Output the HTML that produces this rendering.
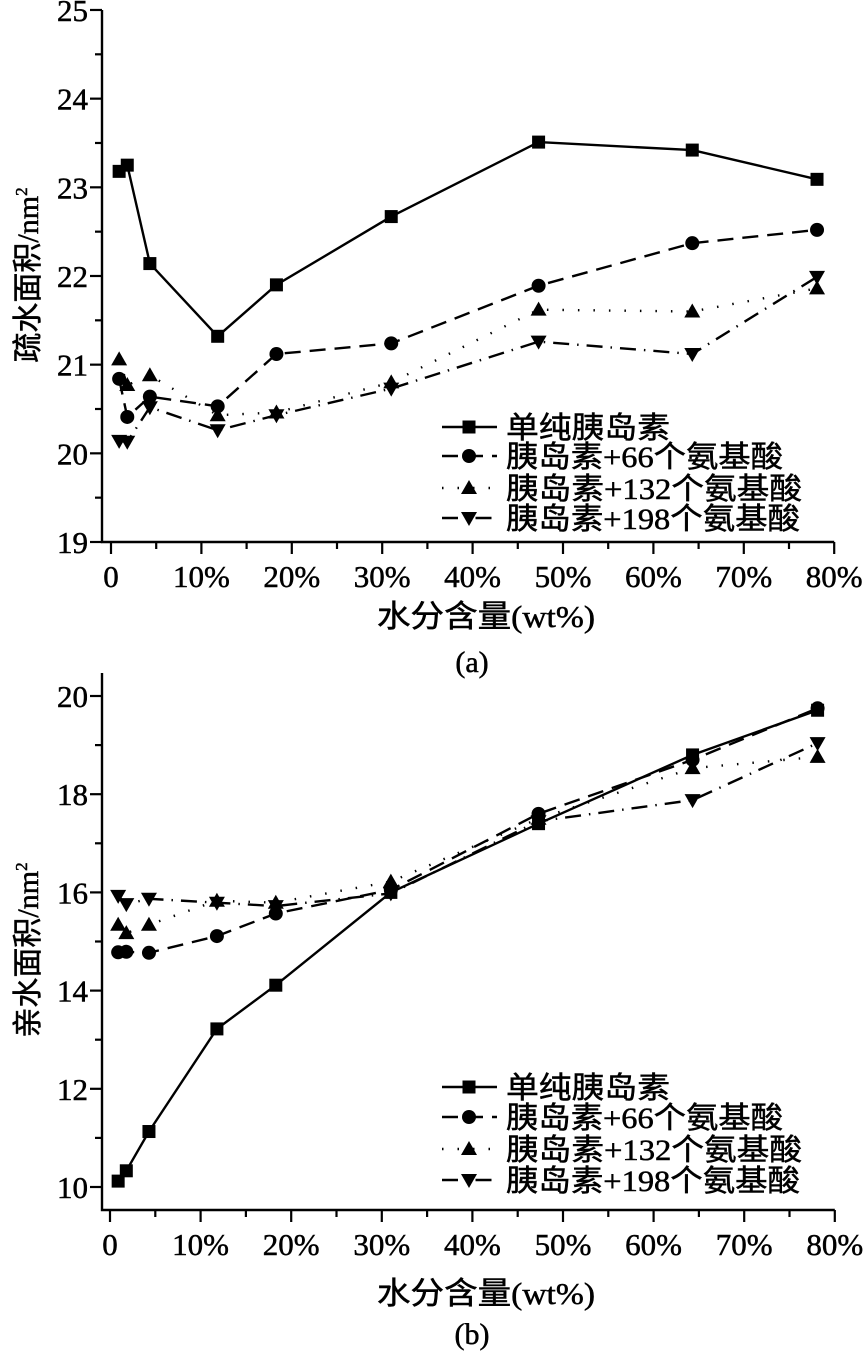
<!DOCTYPE html>
<html><head><meta charset="utf-8">
<style>
html,body{margin:0;padding:0;background:#fff;}
svg{display:block;}
text{font-family:"Liberation Serif","Noto Sans CJK SC",serif;fill:#000;}
.tk{stroke:#000;stroke-width:0.5px;}
</style></head>
<body>
<svg id="fig" width="867" height="1351" viewBox="0 0 867 1351" xmlns="http://www.w3.org/2000/svg"></svg>
<script>
// ---- data ----
const waterContent = [0.9, 1.8, 4.3, 11.8, 18.3, 31.0, 47.3, 64.3, 78.1];
const seriesNames = ["单纯胰岛素", "胰岛素+66个氨基酸", "胰岛素+132个氨基酸", "胰岛素+198个氨基酸"];
const hydrophobicPure = [23.18, 23.25, 22.14, 21.32, 21.90, 22.67, 23.51, 23.42, 23.09];
const hydrophobic66 = [20.84, 20.41, 20.64, 20.53, 21.12, 21.24, 21.89, 22.37, 22.52];
const hydrophobic132 = [21.06, 20.77, 20.88, 20.43, 20.46, 20.80, 21.62, 21.60, 21.86];
const hydrophobic198 = [20.14, 20.13, 20.52, 20.26, 20.43, 20.73, 21.26, 21.12, 21.99];
const hydrophilicPure = [10.12, 10.33, 11.13, 13.22, 14.11, 16.00, 17.40, 18.80, 19.71];
const hydrophilic66 = [14.78, 14.79, 14.77, 15.11, 15.57, 16.05, 17.60, 18.70, 19.75];
const hydrophilic132 = [15.34, 15.17, 15.34, 15.83, 15.79, 16.22, 17.50, 18.53, 18.76];
const hydrophilic198 = [15.93, 15.76, 15.87, 15.79, 15.72, 15.98, 17.45, 17.88, 19.04];
const xTickLabels = ["0", "10%", "20%", "30%", "40%", "50%", "60%", "70%", "80%"];
const yTicksTop = [19, 20, 21, 22, 23, 24, 25];
const yTicksBottom = [10, 12, 14, 16, 18, 20];

const NS = "http://www.w3.org/2000/svg";
const svg = document.getElementById("fig");
function mk(tag, attrs, parent) {
  const e = document.createElementNS(NS, tag);
  for (const k in attrs) e.setAttribute(k, attrs[k]);
  (parent || svg).appendChild(e);
  return e;
}
const dashes = ["", "16 9", "1.5 14", "16 8 1.5 8"];

function drawMarker(g, kind, cx, cy) {
  let m;
  if (kind === 0) m = mk("rect", {x: cx - 6.5, y: cy - 6.5, width: 13, height: 13, fill: "#000"}, g);
  else if (kind === 1) m = mk("circle", {cx: cx, cy: cy, r: 7, fill: "#000"}, g);
  else if (kind === 2) m = mk("polygon", {points: `${cx},${cy-8} ${cx+8},${cy+6} ${cx-8},${cy+6}`, fill: "#000"}, g);
  else m = mk("polygon", {points: `${cx},${cy+8} ${cx+8},${cy-6} ${cx-8},${cy-6}`, fill: "#000"}, g);
  return m;
}

function chart(opt) {
  const g = mk("g", {});
  
  
  const X = v => opt.x0 + (v / 10) * opt.xStep;
  const Y = v => opt.yBase - (v - opt.yBaseVal) * opt.yUnit;
  const ax = mk("path", {d: `M${opt.axisX},${opt.axisTop} V${opt.axisBottom} H${X(80)}`, stroke: "#000", "stroke-width": 2.4, fill: "none"}, g);
  
  
  for (let i = 0; i <= 16; i++) {
    const v = i * 5, major = i % 2 === 0;
    mk("line", {x1: X(v), x2: X(v), y1: opt.axisBottom, y2: opt.axisBottom + (major ? 12 : 7), stroke: "#000", "stroke-width": 2.2}, g);
  }
  xTickLabels.forEach((t, i) => {
    const tx = mk("text", {x: X(i * 10), y: opt.axisBottom + 45, "text-anchor": "middle", "font-size": 31, class: "tk"}, g);
    tx.textContent = t;
    
    
  });
  opt.yTicks.forEach((v, i) => {
    mk("line", {x1: opt.axisX - 12, x2: opt.axisX, y1: Y(v), y2: Y(v), stroke: "#000", "stroke-width": 2.2}, g);
    if (i < opt.yTicks.length - 1) {
      const mv = v + opt.yMinorStep;
      mk("line", {x1: opt.axisX - 7, x2: opt.axisX, y1: Y(mv), y2: Y(mv), stroke: "#000", "stroke-width": 2.2}, g);
    }
    const ty = mk("text", {x: opt.axisX - 14, y: Y(v) + 11, "text-anchor": "end", "font-size": 31, class: "tk"}, g);
    ty.textContent = String(v);
    
    
  });
  opt.series.forEach((vals, s) => {
    const sg = mk("g", {}, g);
    
    
    const pts = vals.map((v, i) => `${X(waterContent[i]).toFixed(1)},${Y(v).toFixed(1)}`).join(" ");
    const attrs = {points: pts, fill: "none", stroke: "#000", "stroke-width": 2.4};
    if (dashes[s]) attrs["stroke-dasharray"] = dashes[s];
    mk("polyline", attrs, sg);
    vals.forEach((v, i) => {
      const m = drawMarker(sg, s, X(waterContent[i]), Y(v));
      
      
    });
  });
  const lg = mk("g", {}, g);
  
  
  const widths = [164, 277, 296, 294];
  seriesNames.forEach((n, s) => {
    const y = opt.legendY[s];
    const eg = mk("g", {}, lg);
    
    
    const la = {x1: 442, x2: 497, y1: y, y2: y, stroke: "#000", "stroke-width": 2.4};
    if (dashes[s]) la["stroke-dasharray"] = s === 1 ? "16 9" : (s === 2 ? "1.5 14" : "16 8 1.5 8");
    mk("line", la, eg);
    drawMarker(eg, s, 469, y);
    const t = mk("text", {x: 506, y: y + 11, "font-size": 30, textLength: widths[s], lengthAdjust: "spacingAndGlyphs", class: "tk", style: 'font-family:"Liberation Serif","Noto Sans CJK SC",sans-serif'}, eg);
    t.textContent = n;
  });
  const yt = mk("text", {x: 0, y: 0, "font-size": 30, "text-anchor": "middle", class: "tk", transform: `translate(${opt.yTitleX},${opt.yTitleY}) rotate(-90)`}, g);
  
  
  yt.innerHTML = opt.yTitle + '/nm<tspan dy="-11" font-size="17">2</tspan>';
  const xt = mk("text", {x: 486, y: opt.xTitleY, "font-size": 31, "text-anchor": "middle", class: "tk", textLength: 218, lengthAdjust: "spacingAndGlyphs"}, g);
  
  
  xt.textContent = "水分含量(wt%)";
  const cap = mk("text", {x: 472, y: opt.capY, "font-size": 30, "text-anchor": "middle", class: "tk"}, g);
  
  
  cap.textContent = opt.caption;
}

chart({
  name: "chart-hydrophobic-area", x0: 111, xStep: 90.4, yBase: 542, yBaseVal: 19, yUnit: 88.67,
  axisX: 102, axisTop: 10, axisBottom: 542, yTicks: yTicksTop, yMinorStep: 0.5,
  series: [hydrophobicPure, hydrophobic66, hydrophobic132, hydrophobic198],
  legendY: [427, 456, 488, 518], yTitle: "疏水面积", yTitleX: 38, yTitleY: 275,
  xTitleY: 627, capY: 672, caption: "(a)"
});
chart({
  name: "chart-hydrophilic-area", x0: 110, xStep: 90.6, yBase: 1187, yBaseVal: 10, yUnit: 49.1,
  axisX: 102, axisTop: 673, axisBottom: 1210, yTicks: yTicksBottom, yMinorStep: 1,
  series: [hydrophilicPure, hydrophilic66, hydrophilic132, hydrophilic198],
  legendY: [1087, 1117, 1149, 1180], yTitle: "亲水面积", yTitleX: 38, yTitleY: 950,
  xTitleY: 1304, capY: 1344, caption: "(b)"
});
</script>
</body></html>
